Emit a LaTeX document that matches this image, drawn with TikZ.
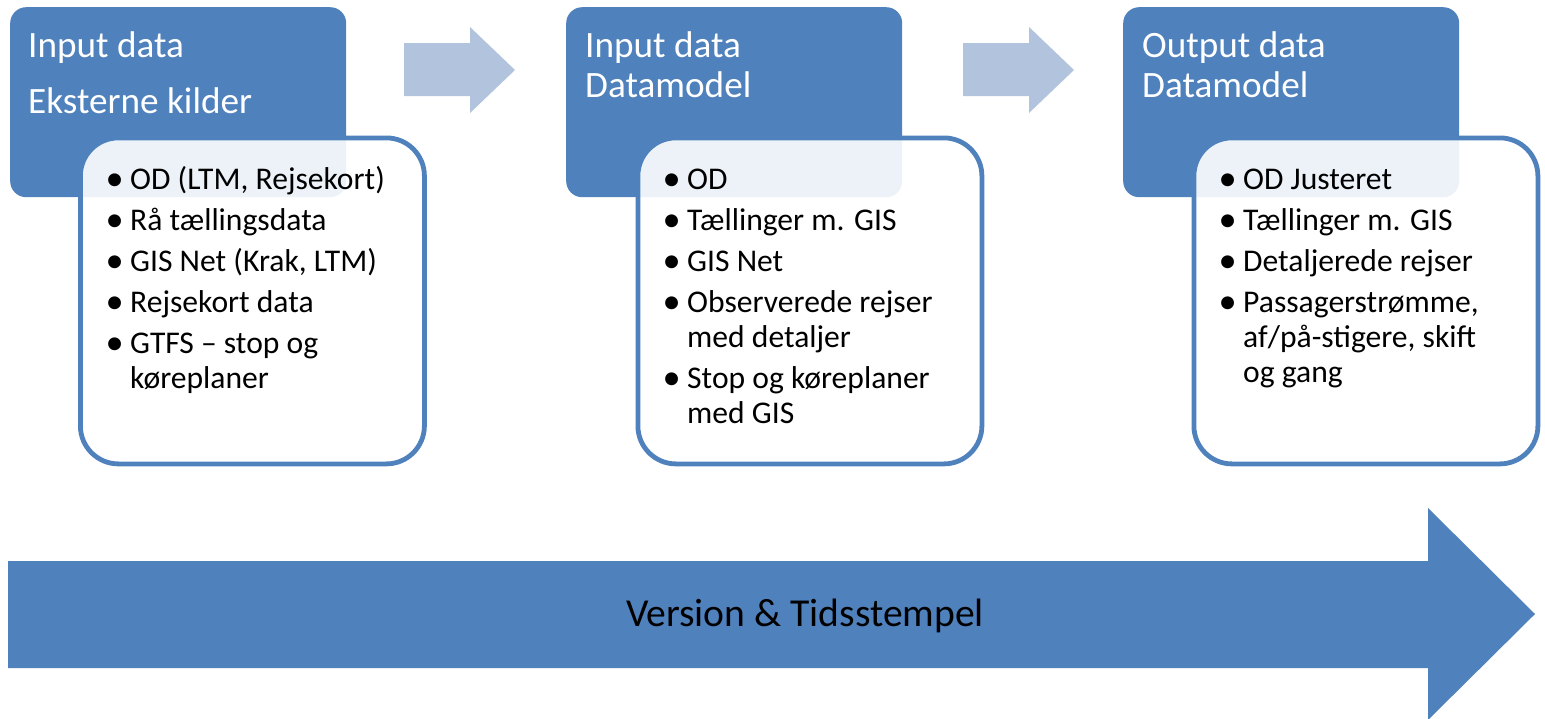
\documentclass[tikz,border=0pt]{standalone}
\usepackage{fontspec}
\setmainfont{Carlito}
\definecolor{accent}{HTML}{4F81BD}
\definecolor{lightacc}{HTML}{B2C3DE}
\newcommand{\bul}{\makebox[23pt][l]{\hspace*{-1.5pt}\raisebox{-1.6pt}{\scalebox{1.15}{\textbullet}}}}
\begin{document}
\begin{tikzpicture}[x=1pt,y=-1pt,
  head/.style={fill=accent, rounded corners=16pt, minimum width=336pt, minimum height=190pt, anchor=north west, inner sep=0pt},
  card/.style={draw=accent, line width=4.8pt, fill=white, fill opacity=0.9, rounded corners=38pt, minimum width=344pt, minimum height=326pt, anchor=north west, inner sep=0pt},
  ttl/.style={text=white, font=\fontsize{37.2}{40}\selectfont, anchor=base west, inner sep=0pt},
  itm/.style={text=black, font=\fontsize{31.6}{35}\selectfont, anchor=base west, inner sep=0pt},
  flow/.style={fill=lightacc},
  big/.style={fill=accent}]
\clip (0,0) rectangle (1545,718);
\useasboundingbox (0,0) rectangle (1545,718);
\fill[white] (0,0) rectangle (1545,718);

% header boxes
\node[head] (h1) at (10,7) {};
\node[head] (h2) at (566,7) {};
\node[head] (h3) at (1123,7) {};

% flow arrows
\fill[flow] (404,43) -- (470,43) -- (470,27) -- (515,70) -- (470,113) -- (470,96) -- (404,96) -- cycle;
\fill[flow] (963,43) -- (1029,43) -- (1029,27) -- (1074,70) -- (1029,113) -- (1029,96) -- (963,96) -- cycle;

% cards
\node[card] (c1) at (78,135.5) {};
\node[card] (c2) at (635.5,135.5) {};
\node[card] (c3) at (1191.5,135.5) {};

% titles
\node[ttl] (t1a) at (28,57) {Input data};
\node[ttl] (t1b) at (28,113) {Eksterne kilder};
\node[ttl] (t2a) at (585,57) {Input data};
\node[ttl] (t2b) at (585,97) {Datamodel};
\node[ttl] (t3a) at (1142,57) {Output data};
\node[ttl] (t3b) at (1142,97) {Datamodel};

% card 1 items
\node[itm] (a1) at (107,189) {\bul OD (LTM, Rejsekort)};
\node[itm] (a2) at (107,230) {\bul Rå tællingsdata};
\node[itm] (a3) at (107,271) {\bul GIS Net (Krak, LTM)};
\node[itm] (a4) at (107,312) {\bul Rejsekort data};
\node[itm] (a5) at (107,353) {\bul GTFS – stop og};
\node[itm] (a6) at (130,388) {køreplaner};

% card 2 items
\node[itm] (b1) at (664,189) {\bul OD};
\node[itm] (b2) at (664,230) {\bul Tællinger m. GIS};
\node[itm] (b3) at (664,271) {\bul GIS Net};
\node[itm] (b4) at (664,312) {\bul Observerede rejser};
\node[itm] (b5) at (687,347) {med detaljer};
\node[itm] (b6) at (664,388) {\bul Stop og køreplaner};
\node[itm] (b7) at (687,423) {med GIS};

% card 3 items
\node[itm] (d1) at (1220,189) {\bul OD Justeret};
\node[itm] (d2) at (1220,230) {\bul Tællinger m. GIS};
\node[itm] (d3) at (1220,271) {\bul Detaljerede rejser};
\node[itm] (d4) at (1220,312) {\bul Passagerstrømme,};
\node[itm] (d5) at (1243,347) {af/på-stigere, skift};
\node[itm] (d6) at (1243,382) {og gang};

% big arrow
\fill[big] (8,561) -- (1428,561) -- (1428,508) -- (1535,614) -- (1428,720) -- (1428,668) -- (8,668) -- cycle;
\node[text=black, font=\fontsize{39.6}{44}\selectfont, anchor=base, inner sep=0pt] (v) at (805,626) {Version \& Tidsstempel};
\end{tikzpicture}
\end{document}
